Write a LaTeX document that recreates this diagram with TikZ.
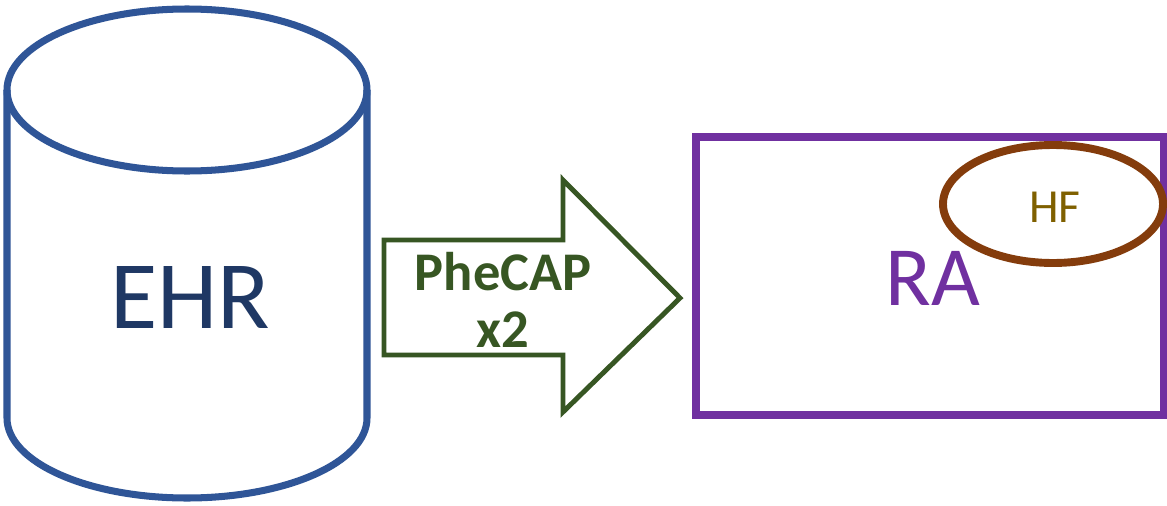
\documentclass[tikz,border=0pt]{standalone}
\usepackage{fontspec}
\setmainfont{Carlito}
\usetikzlibrary{positioning}

\definecolor{dbblue}{HTML}{2F5597}
\definecolor{dbnavy}{HTML}{1F3864}
\definecolor{pcgreen}{HTML}{375623}
\definecolor{rapurple}{HTML}{7030A0}
\definecolor{hfbrown}{HTML}{843C0C}
\definecolor{hfgold}{HTML}{7F6000}

\begin{document}
\begin{tikzpicture}[x=0.02cm, y=0.02cm,
    store/.style={draw=dbblue, line width=4pt},
    flow/.style={draw=pcgreen, line width=2.8pt, line join=miter},
    cohort/.style={draw=rapurple, line width=4pt},
    subset/.style={draw=hfbrown, line width=4.5pt},
    lbl/.style={inner sep=0pt, anchor=center}
]
\useasboundingbox (0,0) rectangle (1167,505);

% EHR store
\draw[store] (187,415) ellipse[x radius=180, y radius=81];
\draw[store] (7,415) -- (7,87) arc[start angle=180, end angle=360, x radius=180, y radius=80] -- (367,415);
\node[lbl, text=dbnavy, font=\fontsize{55}{60}\selectfont] (ehr) at (190,208) {EHR};

% PheCAP arrow
\draw[flow] (384,265) -- (563,265) -- (563,325) -- (680,207) -- (563,93) -- (563,150) -- (384,150) -- cycle;
\node[lbl, text=pcgreen, align=center, font=\fontsize{31}{32.5}\selectfont\bfseries] (phecap) at (503,205) {PheCAP\\x2};

% RA cohort with HF subset
\draw[cohort] (696,368) rectangle (1163.5,90);
\node[lbl, text=rapurple, font=\fontsize{48}{52}\selectfont] (ra) at (933,226.5) {RA};
\draw[subset] (1053,301) ellipse[x radius=110, y radius=59];
\node[lbl, text=hfgold, font=\fontsize{27}{30}\selectfont] (hf) at (1055,298) {HF};
\end{tikzpicture}
\end{document}
